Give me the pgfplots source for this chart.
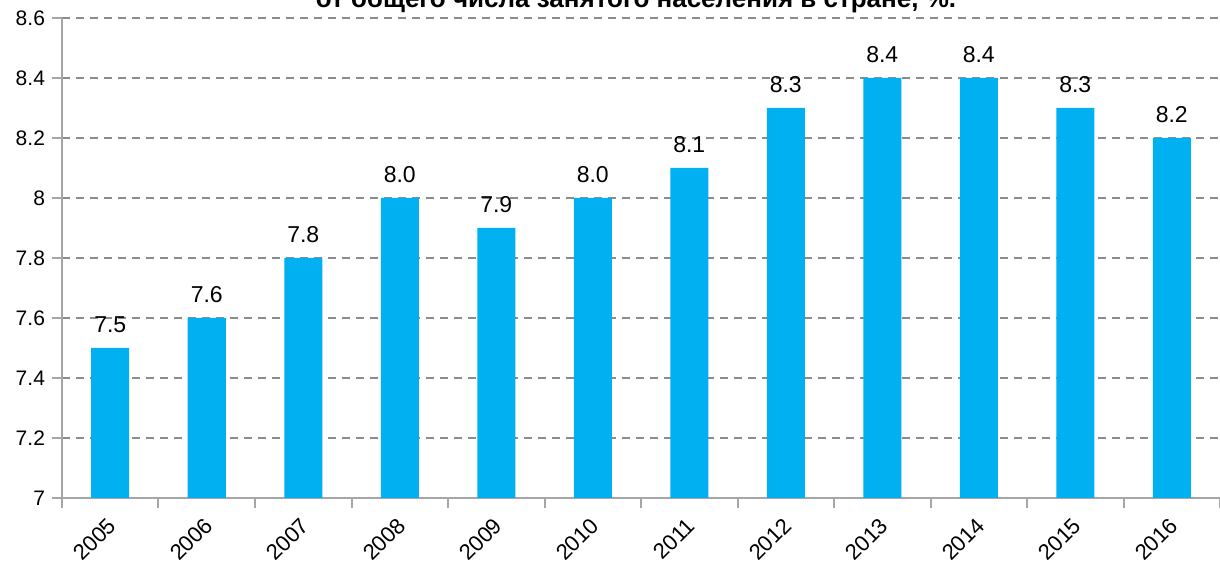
\documentclass[border=0pt]{standalone}
\usepackage{pgfplots}
\pgfplotsset{compat=1.18}
\usepackage{fontspec}
\setmainfont{Liberation Sans}
\definecolor{barblue}{HTML}{00B0F0}
\definecolor{gridgray}{HTML}{8C8C8C}
\definecolor{axgray}{HTML}{A6A6A6}
\begin{document}
\begin{tikzpicture}
\begin{axis}[
  at={(0,0)}, anchor=south west,
  scale only axis,
  width=579pt, height=240pt,
  xmin=-0.5, xmax=11.5,
  ymin=7, ymax=8.6,
  ytick={7,7.2,...,8.6},
  yticklabels={7,7.2,7.4,7.6,7.8,8,8.2,8.4,8.6},
  xtick={0,...,11},
  xticklabels={2005,2006,2007,2008,2009,2010,2011,2012,2013,2014,2015,2016},
  minor xtick={-0.5,0.5,...,11.5},
  axis x line*=bottom,
  axis y line*=left,
  axis line style={axgray, line width=1.2pt},
  tick align=outside,
  major tick length=5pt,
  minor tick length=5pt,
  x tick style={draw=none},
  minor x tick style={draw=axgray, line width=1pt},
  y tick style={draw=axgray, line width=1pt},
  ymajorgrids,
  grid style={gridgray, dashed, line width=0.8pt, dash pattern=on 4pt off 3pt},
  ticklabel style={font=\fontsize{10.5}{12}\selectfont},
  x tick label style={rotate=45, anchor=north east, inner sep=1pt, yshift=-0.5pt, xshift=-3.1pt, font=\fontsize{11}{12}\selectfont},
  /pgf/number format/assume math mode=true,
  ybar, bar width=19pt,
  nodes near coords,
  nodes near coords style={font=\fontsize{11.5}{13}\selectfont, /pgf/number format/fixed, /pgf/number format/fixed zerofill, /pgf/number format/precision=1, /pgf/number format/assume math mode=true, yshift=4pt},
]
\addplot[fill=barblue, draw=none] coordinates {
(0,7.5) (1,7.6) (2,7.8) (3,8.0) (4,7.9) (5,8.0) (6,8.1) (7,8.3) (8,8.4) (9,8.4) (10,8.3) (11,8.2)
};
\end{axis}
\node[font=\bfseries\fontsize{13}{15}\selectfont, anchor=base] at (287pt,245pt) {от общего числа занятого населения в стране, \%.};
\pgfresetboundingbox
\useasboundingbox (-31pt,-34.5pt) rectangle (579pt,249pt);
\end{tikzpicture}
\end{document}
